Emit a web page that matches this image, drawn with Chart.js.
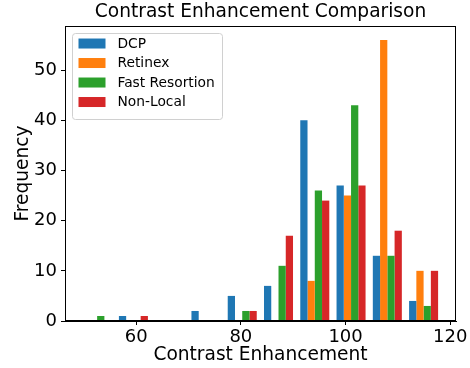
<!DOCTYPE html>
<html>
<head>
<meta charset="utf-8">
<script src="https://cdn.jsdelivr.net/npm/chart.js@4.4.0/dist/chart.umd.min.js"></script>
<style>
  html, body { margin: 0; padding: 0; background: #fff; }
</style>
</head>
<body>
<canvas id="chart" width="470" height="368"></canvas>
<script>
// histogram bin centres (10 bins) and counts per method
const binCenters = [52.54, 59.47, 66.40, 73.33, 80.26, 87.19, 94.12, 101.05, 107.98, 114.91];
const dcp = [0, 1, 0, 2, 5, 7, 40, 27, 13, 4];
const retinex = [0, 0, 0, 0, 0, 0, 8, 25, 56, 10];
const fastResortion = [1, 0, 0, 0, 2, 11, 26, 43, 13, 3];
const nonLocal = [0, 1, 0, 0, 2, 17, 24, 27, 18, 10];
const seriesNames = ["DCP", "Retinex", "Fast Resortion", "Non-Local"];
const xTicks = [60, 80, 100, 120];
const yTicks = [0, 10, 20, 30, 40, 50];

const palette = ["#1f77b4", "#ff7f0e", "#2ca02c", "#d62728"];
const font = "DejaVu Sans";

function toPoints(values) {
  return binCenters.map((x, i) => ({ x: x, y: values[i] }));
}

// frame on all four sides, like matplotlib spines
const frame = {
  id: "frame",
  afterDatasetsDraw(chart) {
    const { ctx, chartArea: a } = chart;
    ctx.save();
    ctx.strokeStyle = "#000";
    ctx.lineWidth = 1;
    ctx.strokeRect(Math.round(a.left) + 0.5, Math.round(a.top) + 0.5,
      Math.round(a.right - a.left) - 1, Math.round(a.bottom - a.top) - 1);
    ctx.restore();
  },
};

// legend drawn inside the plot, top left
const boxLegend = {
  id: "boxLegend",
  afterDraw(chart) {
    const { ctx, chartArea: a } = chart;
    const x = a.left + 7.5, y = a.top + 7.5, w = 150, h = 86;
    ctx.save();
    ctx.beginPath();
    ctx.roundRect(x, y, w, h, 3);
    ctx.fillStyle = "rgba(255,255,255,0.8)";
    ctx.fill();
    ctx.strokeStyle = "#d0d0d0";
    ctx.lineWidth = 1;
    ctx.stroke();
    ctx.font = "13.8px '" + font + "'";
    ctx.textBaseline = "middle";
    chart.data.datasets.forEach((ds, i) => {
      const cy = y + 10 + i * 19.5;
      ctx.fillStyle = ds.backgroundColor;
      ctx.fillRect(x + 6, cy - 5, 27, 10);
      ctx.fillStyle = "#000";
      ctx.fillText(ds.label, x + 45, cy + 0.5);
    });
    ctx.restore();
  },
};

new Chart(document.getElementById("chart"), {
  type: "bar",
  data: {
    datasets: [dcp, retinex, fastResortion, nonLocal].map((vals, i) => ({
      label: seriesNames[i],
      data: toPoints(vals),
      backgroundColor: palette[i],
      borderWidth: 0,
      barPercentage: 1,
      categoryPercentage: 0.8,
    })),
  },
  options: {
    responsive: false,
    animation: false,
    layout: { padding: { left: 0, right: 14, top: 0, bottom: 0 } },
    plugins: {
      legend: { display: false },
      tooltip: { enabled: false },
      title: {
        display: true,
        text: "Contrast Enhancement Comparison",
        fullSize: false,
        color: "#000",
        font: { family: font, size: 18.6, weight: "normal" },
        padding: { top: 1.5, bottom: 2.2 },
      },
    },
    scales: {
      x: {
        type: "linear",
        min: 46.4,
        max: 121.1,
        offset: false,
        afterBuildTicks: (s) => { s.ticks = xTicks.map((v) => ({ value: v })); },
        afterFit: (s) => { s.height = 47; },
        grid: { offset: false, drawOnChartArea: false, drawTicks: true, tickLength: 4, color: "#000" },
        border: { display: true, color: "#000" },
        ticks: { color: "#000", padding: 2, maxRotation: 0, font: { family: font, size: 18 } },
        title: {
          display: true,
          text: "Contrast Enhancement",
          color: "#000",
          font: { family: font, size: 18.6 },
          padding: { top: 0, bottom: 1.5 },
        },
      },
      y: {
        min: 0,
        max: 58.8,
        afterBuildTicks: (s) => { s.ticks = yTicks.map((v) => ({ value: v })); },
        afterFit: (s) => { s.width = 65; },
        grid: { offset: false, drawOnChartArea: false, drawTicks: true, tickLength: 4, color: "#000" },
        border: { display: true, color: "#000" },
        ticks: { color: "#000", padding: 4, font: { family: font, size: 18 } },
        title: {
          display: true,
          text: "Frequency",
          color: "#000",
          font: { family: font, size: 18.6 },
          padding: { top: 12, bottom: 0 },
        },
      },
    },
  },
  plugins: [frame, boxLegend],
});
</script>
</body>
</html>
